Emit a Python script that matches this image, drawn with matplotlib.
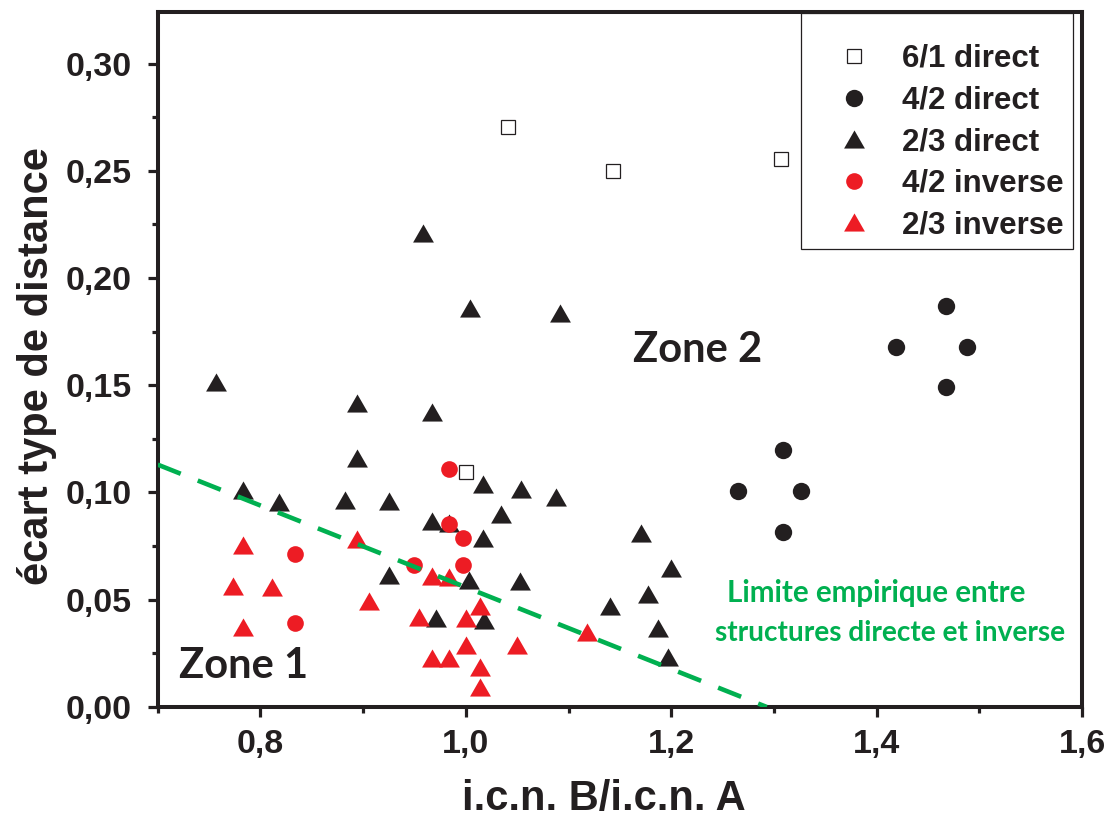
import matplotlib
matplotlib.use("Agg")
import matplotlib.pyplot as plt
from matplotlib.ticker import MultipleLocator, FixedLocator, FixedFormatter
from matplotlib.patches import Rectangle

# ---------------- data ----------------
sq61_x = [1.041, 1.143, 1.307, 1.000]
sq61_y = [0.2704, 0.2499, 0.2555, 0.1097]

c42d_x = [1.265, 1.309, 1.326, 1.309, 1.419, 1.468, 1.488, 1.468]
c42d_y = [0.1005, 0.1198, 0.1005, 0.0818, 0.1677, 0.1871, 0.1677, 0.1493]

t23d_x = [0.757, 0.958, 1.004, 1.092, 0.894, 0.967, 0.894, 1.017, 1.054, 0.783,
          0.818, 0.882, 0.925, 1.034, 0.967, 0.984, 1.017, 1.088, 1.171, 1.200,
          1.177, 1.140, 1.187, 1.197, 1.003, 1.053, 0.925, 0.971, 1.018]
t23d_y = [0.1515, 0.2210, 0.1860, 0.1837, 0.1416, 0.1374, 0.1159, 0.1040, 0.1016, 0.1012,
          0.0957, 0.0965, 0.0962, 0.0898, 0.0867, 0.0858, 0.0787, 0.0978, 0.0813, 0.0647,
          0.0527, 0.0471, 0.0367, 0.0235, 0.0592, 0.0587, 0.0615, 0.0414, 0.0406]

c42i_x = [0.984, 0.984, 0.997, 0.834, 0.950, 0.997, 0.834]
c42i_y = [0.1108, 0.0853, 0.0789, 0.0712, 0.0662, 0.0662, 0.0390]

t23i_x = [0.783, 0.894, 0.967, 0.984, 0.773, 0.811, 0.906, 1.014, 0.954, 1.000,
          0.783, 1.000, 1.050, 0.967, 0.984, 1.014, 1.014, 1.118]
t23i_y = [0.0755, 0.0782, 0.0611, 0.0608, 0.0564, 0.0561, 0.0496, 0.0471, 0.0418, 0.0414,
          0.0374, 0.0289, 0.0289, 0.0230, 0.0227, 0.0188, 0.0095, 0.0351]

limit_x = [0.70, 1.293]
limit_y = [0.113, 0.000]

series_labels = ["6/1 direct", "4/2 direct", "2/3 direct", "4/2 inverse", "2/3 inverse"]

x_ticks = [0.8, 1.0, 1.2, 1.4, 1.6]
x_tick_labels = ["0,8", "1,0", "1,2", "1,4", "1,6"]
y_ticks = [0.00, 0.05, 0.10, 0.15, 0.20, 0.25, 0.30]
y_tick_labels = ["0,00", "0,05", "0,10", "0,15", "0,20", "0,25", "0,30"]

x_label = "i.c.n. B/i.c.n. A"
y_label = "écart type de distance"
zone1_text = "Zone 1"
zone2_text = "Zone 2"
limit_text_1 = "Limite empirique entre"
limit_text_2 = "structures directe et inverse"

# ---------------- style ----------------
BLACK = "#231F20"
RED = "#ED1C24"
GREEN = "#00B050"
ARIAL = ["Liberation Sans", "DejaVu Sans"]
CALIBRI = ["Lato", "DejaVu Sans"]

tri = [(-1.0, -0.87), (1.0, -0.87), (0.0, 0.87), (-1.0, -0.87)]

fig = plt.figure(figsize=(11.13, 8.24), dpi=100)
ax = fig.add_axes([0.1417, 0.1420, 0.8305, 0.8434])

s1, = ax.plot(sq61_x, sq61_y, linestyle="none", marker="s", ms=10,
              mfc="white", mec=BLACK, mew=0.9, label=series_labels[0])
s2, = ax.plot(c42d_x, c42d_y, linestyle="none", marker="o", ms=12.5,
              mfc=BLACK, mec="none", label=series_labels[1])
s3, = ax.plot(t23d_x, t23d_y, linestyle="none", marker=tri, ms=15,
              mfc=BLACK, mec="none", label=series_labels[2])
s4, = ax.plot(c42i_x, c42i_y, linestyle="none", marker="o", ms=12,
              mfc=RED, mec="none", label=series_labels[3])
s5, = ax.plot(t23i_x, t23i_y, linestyle="none", marker=tri, ms=15,
              mfc=RED, mec="none", label=series_labels[4])

ax.plot(limit_x, limit_y, color=GREEN, lw=3.3, linestyle=(0, (5.4, 4.0)),
        solid_capstyle="butt", dash_capstyle="butt", zorder=5)

ax.set_xlim(0.7, 1.6)
ax.set_ylim(0.0, 0.324)

ax.xaxis.set_major_locator(FixedLocator(x_ticks))
ax.xaxis.set_major_formatter(FixedFormatter(x_tick_labels))
ax.xaxis.set_minor_locator(MultipleLocator(0.1))
ax.yaxis.set_major_locator(FixedLocator(y_ticks))
ax.yaxis.set_major_formatter(FixedFormatter(y_tick_labels))
ax.yaxis.set_minor_locator(MultipleLocator(0.025))

for sp in ax.spines.values():
    sp.set_linewidth(2.9)
    sp.set_color(BLACK)

ax.tick_params(which="major", direction="out", length=7.5, width=2.3, color=BLACK)
ax.tick_params(which="minor", direction="out", length=4.5, width=2.3, color=BLACK)
ax.tick_params(axis="x", which="major", pad=8)
ax.tick_params(axis="y", which="major", pad=11)

for lab in ax.get_xticklabels() + ax.get_yticklabels():
    lab.set_fontfamily(ARIAL)
    lab.set_fontweight("bold")
    lab.set_fontsize(24.5)
    lab.set_color(BLACK)

ax.set_xlabel(x_label, fontsize=30, fontweight="bold", family=ARIAL, color=BLACK)
ax.set_ylabel(y_label, fontsize=30, fontweight="bold", family=ARIAL, color=BLACK)
ax.xaxis.set_label_coords(0.483, -0.104)
ax.yaxis.set_label_coords(-0.109, 0.4906)

ax.text(0.7207, 0.01355, zone1_text, fontsize=30, fontweight="bold", family=CALIBRI,
        color=BLACK, ha="left", va="baseline")
ax.text(1.163, 0.1607, zone2_text, fontsize=30, fontweight="bold", family=CALIBRI,
        color=BLACK, ha="left", va="baseline")
ax.text(0.7 + (876 - 157.7) / 1027, (707 - 602) / 2145, limit_text_1, fontsize=21.3,
        fontweight="bold", family=CALIBRI, color=GREEN, ha="center", va="baseline")
ax.text(0.7 + (890 - 157.7) / 1027, (707 - 641.5) / 2145, limit_text_2, fontsize=20.2,
        fontweight="bold", family=CALIBRI, color=GREEN, ha="center", va="baseline")

# legend (frameless) + thin frame rectangle
leg = ax.legend(handles=[s1, s2, s3, s4, s5], loc="upper left",
                bbox_to_anchor=(0.708, 0.954), borderaxespad=0, borderpad=0,
                frameon=False, handlelength=2.68, handletextpad=0.2,
                labelspacing=0.37, numpoints=1,
                prop={"family": ARIAL, "weight": "bold", "size": 22.5})
for t in leg.get_texts():
    t.set_color(BLACK)

ax.add_patch(Rectangle(((801 - 157.7) / 924.3, 1 - (13 - 12) / 695),
                       (1073 - 801) / 924.3, -(249 - 13) / 695,
                       transform=ax.transAxes, fill=False, edgecolor=BLACK,
                       linewidth=0.9, zorder=6, clip_on=False))

fig.savefig("out.png", dpi=100)
